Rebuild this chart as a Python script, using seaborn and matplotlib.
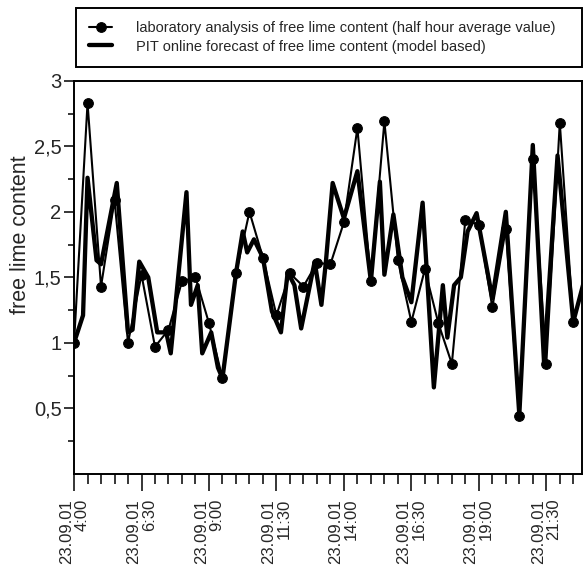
import pandas as pd
import matplotlib
matplotlib.use("Agg")
import matplotlib.pyplot as plt
import matplotlib.dates as mdates
import seaborn as sns

# Lab values: half hour averages, 23.09.2001 from 4:00
lab_times = ["04:00", "04:30", "05:00", "05:30", "06:00", "06:30", "07:00", "07:30",
             "08:00", "08:30", "09:00", "09:30", "10:00", "10:30", "11:00", "11:30",
             "12:00", "12:30", "13:00", "13:30", "14:00", "14:30", "15:00", "15:30",
             "16:00", "16:30", "17:00", "17:30", "18:00", "18:30", "19:00", "19:30",
             "20:00", "20:30", "21:00", "21:30", "22:00", "22:30", "23:00"]
lab_values = [1.00, 2.83, 1.43, 2.09, 1.00, 1.52, 0.97, 1.10,
              1.47, 1.50, 1.15, 0.73, 1.53, 2.00, 1.65, 1.21,
              1.53, 1.43, 1.61, 1.60, 1.92, 2.64, 1.47, 2.69,
              1.63, 1.16, 1.56, 1.15, 0.84, 1.94, 1.90, 1.27,
              1.87, 0.44, 2.40, 0.84, 2.68, 1.16, 1.55]

# PIT online forecast (model based)
pit_times = ["04:00", "04:20", "04:30", "04:50", "05:00", "05:35", "06:00", "06:10",
             "06:25", "06:45", "07:05", "07:25", "07:35", "08:10", "08:20", "08:35",
             "08:45", "09:05", "09:20", "09:30", "10:00", "10:15", "10:25", "10:40",
             "11:00", "11:20", "11:40", "11:55", "12:10", "12:25", "12:55", "13:10",
             "13:20", "13:35", "14:00", "14:30", "15:00", "15:20", "15:30", "15:50",
             "16:10", "16:30", "16:55", "17:20", "17:40", "17:50", "18:05", "18:20",
             "18:35", "18:55", "19:30", "20:00", "20:30", "21:00", "21:25", "21:55",
             "22:30", "23:00"]
pit_values = [1.00, 1.21, 2.26, 1.63, 1.60, 2.22, 1.08, 1.10,
              1.62, 1.50, 1.08, 1.08, 0.92, 2.15, 1.29, 1.44,
              0.92, 1.08, 0.81, 0.73, 1.53, 1.85, 1.69, 1.79,
              1.65, 1.24, 1.08, 1.54, 1.44, 1.11, 1.62, 1.29,
              1.62, 2.22, 1.95, 2.31, 1.47, 2.23, 1.52, 1.98,
              1.50, 1.31, 2.07, 0.66, 1.44, 1.04, 1.44, 1.50,
              1.85, 1.99, 1.34, 2.00, 0.45, 2.51, 0.85, 2.43,
              1.16, 1.55]

tick_times = ["04:00", "06:30", "09:00", "11:30", "14:00", "16:30", "19:00", "21:30"]
tick_labels = ["23.09.01\n" + t.lstrip("0") for t in tick_times]
ytick_values = [0.5, 1, 1.5, 2, 2.5, 3]
ytick_labels = ["0,5", "1", "1,5", "2", "2,5", "3"]

day = "2001-09-23 "
df_lab = pd.DataFrame({"time": pd.to_datetime([day + t for t in lab_times]), "value": lab_values})
df_pit = pd.DataFrame({"time": pd.to_datetime([day + t for t in pit_times]), "value": pit_values})

sns.set_style("ticks")
plt.rcParams["font.family"] = ["Liberation Sans", "DejaVu Sans"]

fig = plt.figure(figsize=(5.83, 5.73), dpi=100)
ax = fig.add_axes([0.127, 0.173, 0.871, 0.686])

sns.lineplot(data=df_pit, x="time", y="value", color="black", lw=3.1, ax=ax,
             label="PIT online forecast of free lime content (model based)")
sns.lineplot(data=df_lab, x="time", y="value", color="black", lw=1.5, marker="o",
             markersize=7, markeredgecolor="black", ax=ax,
             label="laboratory analysis of free lime content (half hour average value)")

ax.set_xlim(pd.Timestamp(day + "04:00"), pd.Timestamp(day + "22:49"))
ax.set_ylim(0, 3)

ax.set_xticks(pd.to_datetime([day + t for t in tick_times]), labels=tick_labels)
ax.xaxis.set_minor_locator(mdates.MinuteLocator(byminute=[0, 30]))
for lab in ax.get_xticklabels():
    lab.set_rotation(90)
    lab.set_multialignment("right")
    lab.set_fontsize(12)
    lab.set_linespacing(1.05)
ax.tick_params(axis="x", which="major", length=12, width=1.3, pad=6, direction="out")
ax.tick_params(axis="x", which="minor", length=7, width=1.3, direction="out")

ax.set_yticks(ytick_values, labels=ytick_labels)
ax.set_yticks([0.25, 0.75, 1.25, 1.75, 2.25, 2.75], minor=True)
ax.tick_params(axis="y", which="major", length=7, width=1.3, pad=2, labelsize=14.5)
ax.tick_params(axis="y", which="minor", length=4.5, width=1.3)

ax.set_xlabel("")
ax.set_ylabel("free lime content", fontsize=15.5)
ax.yaxis.set_label_coords(-0.084, 0.608)
for s in ax.spines.values():
    s.set_linewidth(1.4)
    s.set_color("black")

# legend above the plot, in a framed box
handles, labels = ax.get_legend_handles_labels()
ax.get_legend().remove()
leg = fig.legend(handles[::-1], labels[::-1], loc="upper left",
                 bbox_to_anchor=(0.130, 0.881, 0.868, 0.105), mode="expand",
                 borderaxespad=0, fontsize=10.5, handlelength=1.6, handletextpad=1.6,
                 labelspacing=0.3, borderpad=0.9, fancybox=False, framealpha=1)
leg.get_frame().set_edgecolor("black")
leg.get_frame().set_linewidth(1.4)

fig.savefig("out.png", dpi=100)
